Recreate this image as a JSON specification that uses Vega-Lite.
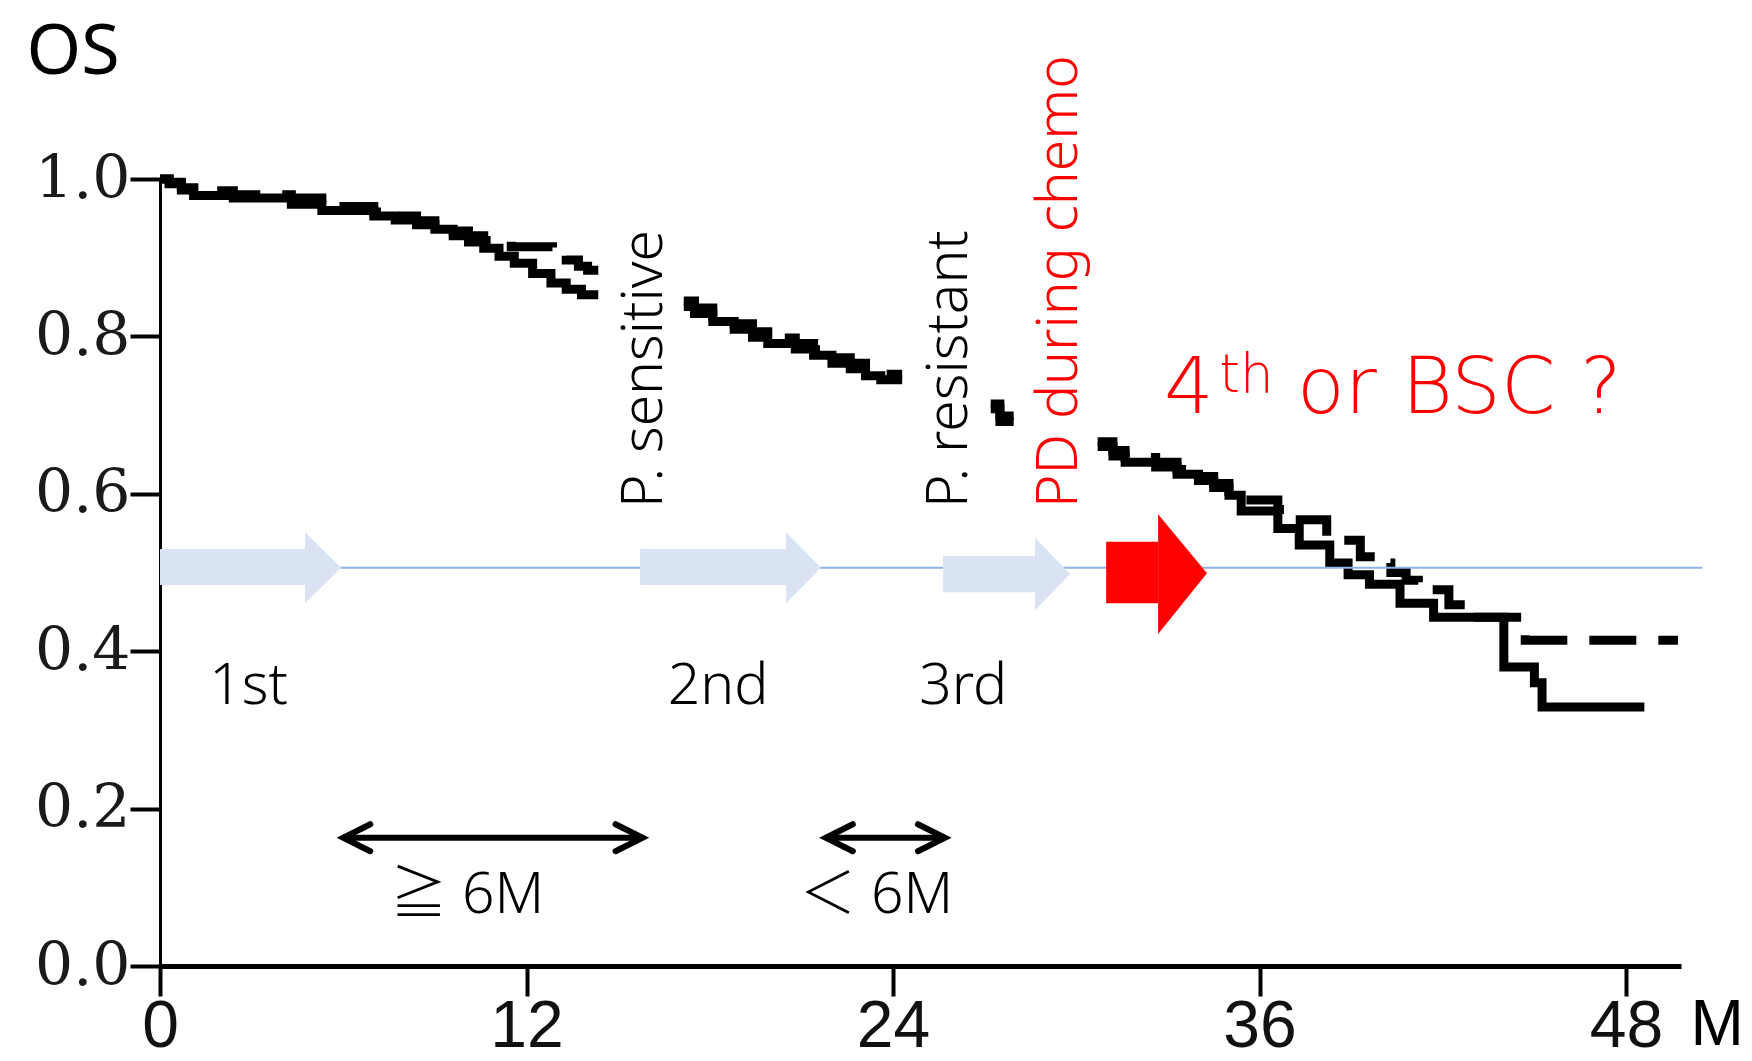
{
  "$schema": "https://vega.github.io/schema/vega-lite/v6.json",
  "autosize": {"type": "none"},
  "padding": {"left": 160, "top": 179, "right": 71, "bottom": 95},
  "width": 1521,
  "height": 787,
  "background": "white",
  "config": {"view": {"stroke": null}, "axis": {"grid": false}},
  "encoding": {
    "x": {
      "field": "m", "type": "quantitative",
      "scale": {"domain": [0, 49.8], "nice": false, "zero": false},
      "axis": {
        "values": [0, 12, 24, 36, 48], "format": "d",
        "labelFont": "Liberation Sans", "labelFontSize": 66, "labelColor": "#111",
        "labelPadding": -2, "labelFlush": false, "labelOverlap": false,
        "tickSize": 30, "tickWidth": 4, "tickColor": "black",
        "domainColor": "black", "domainWidth": 5,
        "title": "M", "titleFont": "Liberation Sans", "titleFontSize": 64,
        "titleFontWeight": "normal", "titleColor": "black",
        "titleX": 1530, "titleY": 78, "titleAlign": "left", "titleBaseline": "alphabetic"
      }
    },
    "y": {
      "field": "s", "type": "quantitative",
      "scale": {"domain": [0, 1], "nice": false, "zero": true},
      "axis": {
        "values": [0, 0.2, 0.4, 0.6, 0.8, 1.0], "format": ".1f",
        "labelFont": "DejaVu Serif", "labelFontSize": 60, "labelColor": "#1a1a1a",
        "labelPadding": 0, "labelFlush": false, "labelOverlap": false,
        "tickSize": 30, "tickWidth": 4, "tickColor": "black",
        "domainColor": "black", "domainWidth": 3,
        "title": "OS", "titleFont": "Noto Sans", "titleFontSize": 70,
        "titleFontWeight": "normal", "titleColor": "black", "titleAngle": 0,
        "titleX": -134, "titleY": -106, "titleAlign": "left", "titleBaseline": "alphabetic"
      }
    }
  },
  "layer": [
    {
      "data": {"values": [
        {"curve": "solid", "seg": "sA", "m": 0, "s": 1.0},
        {"curve": "solid", "seg": "sA", "m": 0.3, "s": 0.994},
        {"curve": "solid", "seg": "sA", "m": 0.7, "s": 0.986},
        {"curve": "solid", "seg": "sA", "m": 1.1, "s": 0.979},
        {"curve": "solid", "seg": "sA", "m": 2.4, "s": 0.976},
        {"curve": "solid", "seg": "sA", "m": 4.3, "s": 0.968},
        {"curve": "solid", "seg": "sA", "m": 5.3, "s": 0.96},
        {"curve": "solid", "seg": "sA", "m": 7.0, "s": 0.953},
        {"curve": "solid", "seg": "sA", "m": 7.7, "s": 0.948},
        {"curve": "solid", "seg": "sA", "m": 8.4, "s": 0.942},
        {"curve": "solid", "seg": "sA", "m": 9.0, "s": 0.936},
        {"curve": "solid", "seg": "sA", "m": 9.6, "s": 0.928},
        {"curve": "solid", "seg": "sA", "m": 10.1, "s": 0.92},
        {"curve": "solid", "seg": "sA", "m": 10.6, "s": 0.912},
        {"curve": "solid", "seg": "sA", "m": 11.1, "s": 0.902},
        {"curve": "solid", "seg": "sA", "m": 11.6, "s": 0.893},
        {"curve": "solid", "seg": "sA", "m": 12.2, "s": 0.88},
        {"curve": "solid", "seg": "sA", "m": 12.8, "s": 0.868},
        {"curve": "solid", "seg": "sA", "m": 13.3, "s": 0.86},
        {"curve": "solid", "seg": "sA", "m": 13.8, "s": 0.853},
        {"curve": "solid", "seg": "sA", "m": 14.35, "s": 0.853},
        {"curve": "dashed", "seg": "dA", "m": 0, "s": 1.0},
        {"curve": "dashed", "seg": "dA", "m": 0.3, "s": 0.996},
        {"curve": "dashed", "seg": "dA", "m": 0.7, "s": 0.989},
        {"curve": "dashed", "seg": "dA", "m": 1.6, "s": 0.985},
        {"curve": "dashed", "seg": "dA", "m": 2.4, "s": 0.98},
        {"curve": "dashed", "seg": "dA", "m": 4.3, "s": 0.976},
        {"curve": "dashed", "seg": "dA", "m": 5.3, "s": 0.965},
        {"curve": "dashed", "seg": "dA", "m": 7.0, "s": 0.958},
        {"curve": "dashed", "seg": "dA", "m": 7.7, "s": 0.953},
        {"curve": "dashed", "seg": "dA", "m": 8.4, "s": 0.947},
        {"curve": "dashed", "seg": "dA", "m": 9.0, "s": 0.941},
        {"curve": "dashed", "seg": "dA", "m": 9.6, "s": 0.934},
        {"curve": "dashed", "seg": "dA", "m": 10.1, "s": 0.928},
        {"curve": "dashed", "seg": "dA", "m": 10.6, "s": 0.922},
        {"curve": "dashed", "seg": "dA", "m": 11.5, "s": 0.914},
        {"curve": "dashed", "seg": "dA", "m": 12.85, "s": 0.903},
        {"curve": "dashed", "seg": "dA", "m": 13.3, "s": 0.897},
        {"curve": "dashed", "seg": "dA", "m": 13.7, "s": 0.889},
        {"curve": "dashed", "seg": "dA", "m": 14.0, "s": 0.884},
        {"curve": "dashed", "seg": "dA", "m": 14.35, "s": 0.884},
        {"curve": "solid", "seg": "sB", "m": 17.15, "s": 0.838},
        {"curve": "solid", "seg": "sB", "m": 17.5, "s": 0.829},
        {"curve": "solid", "seg": "sB", "m": 18.1, "s": 0.819},
        {"curve": "solid", "seg": "sB", "m": 18.8, "s": 0.809},
        {"curve": "solid", "seg": "sB", "m": 19.4, "s": 0.799},
        {"curve": "solid", "seg": "sB", "m": 19.9, "s": 0.791},
        {"curve": "solid", "seg": "sB", "m": 20.8, "s": 0.784},
        {"curve": "solid", "seg": "sB", "m": 21.4, "s": 0.776},
        {"curve": "solid", "seg": "sB", "m": 22.0, "s": 0.766},
        {"curve": "solid", "seg": "sB", "m": 22.6, "s": 0.759},
        {"curve": "solid", "seg": "sB", "m": 23.1, "s": 0.75},
        {"curve": "solid", "seg": "sB", "m": 23.6, "s": 0.745},
        {"curve": "solid", "seg": "sB", "m": 24.3, "s": 0.745},
        {"curve": "dashed", "seg": "dB", "m": 17.15, "s": 0.845},
        {"curve": "dashed", "seg": "dB", "m": 17.5, "s": 0.836},
        {"curve": "dashed", "seg": "dB", "m": 18.1, "s": 0.826},
        {"curve": "dashed", "seg": "dB", "m": 18.8, "s": 0.816},
        {"curve": "dashed", "seg": "dB", "m": 19.4, "s": 0.806},
        {"curve": "dashed", "seg": "dB", "m": 19.9, "s": 0.798},
        {"curve": "dashed", "seg": "dB", "m": 20.8, "s": 0.791},
        {"curve": "dashed", "seg": "dB", "m": 21.4, "s": 0.783},
        {"curve": "dashed", "seg": "dB", "m": 22.0, "s": 0.773},
        {"curve": "dashed", "seg": "dB", "m": 22.6, "s": 0.766},
        {"curve": "dashed", "seg": "dB", "m": 23.1, "s": 0.757},
        {"curve": "dashed", "seg": "dB", "m": 23.6, "s": 0.752},
        {"curve": "dashed", "seg": "dB", "m": 24.3, "s": 0.752},
        {"curve": "solid", "seg": "sC", "m": 27.2, "s": 0.708},
        {"curve": "solid", "seg": "sC", "m": 27.5, "s": 0.692},
        {"curve": "solid", "seg": "sC", "m": 27.95, "s": 0.692},
        {"curve": "dashed", "seg": "dC", "m": 27.2, "s": 0.714},
        {"curve": "dashed", "seg": "dC", "m": 27.5, "s": 0.699},
        {"curve": "dashed", "seg": "dC", "m": 27.95, "s": 0.699},
        {"curve": "solid", "seg": "sD", "m": 30.7, "s": 0.66},
        {"curve": "solid", "seg": "sD", "m": 31.2, "s": 0.648},
        {"curve": "solid", "seg": "sD", "m": 31.6, "s": 0.64},
        {"curve": "solid", "seg": "sD", "m": 32.6, "s": 0.634},
        {"curve": "solid", "seg": "sD", "m": 33.3, "s": 0.625},
        {"curve": "solid", "seg": "sD", "m": 34.0, "s": 0.617},
        {"curve": "solid", "seg": "sD", "m": 34.5, "s": 0.608},
        {"curve": "solid", "seg": "sD", "m": 35.0, "s": 0.598},
        {"curve": "solid", "seg": "sD", "m": 35.4, "s": 0.578},
        {"curve": "solid", "seg": "sD", "m": 36.6, "s": 0.556},
        {"curve": "solid", "seg": "sD", "m": 37.3, "s": 0.535},
        {"curve": "solid", "seg": "sD", "m": 38.3, "s": 0.512},
        {"curve": "solid", "seg": "sD", "m": 38.9, "s": 0.497},
        {"curve": "solid", "seg": "sD", "m": 39.6, "s": 0.485},
        {"curve": "solid", "seg": "sD", "m": 40.6, "s": 0.461},
        {"curve": "solid", "seg": "sD", "m": 41.7, "s": 0.443},
        {"curve": "solid", "seg": "sD", "m": 44.0, "s": 0.38},
        {"curve": "solid", "seg": "sD", "m": 45.0, "s": 0.36},
        {"curve": "solid", "seg": "sD", "m": 45.25, "s": 0.329},
        {"curve": "solid", "seg": "sD", "m": 48.6, "s": 0.329},
        {"curve": "dashed", "seg": "dD", "m": 30.7, "s": 0.666},
        {"curve": "dashed", "seg": "dD", "m": 31.2, "s": 0.655},
        {"curve": "dashed", "seg": "dD", "m": 31.6, "s": 0.646},
        {"curve": "dashed", "seg": "dD", "m": 32.6, "s": 0.64},
        {"curve": "dashed", "seg": "dD", "m": 33.3, "s": 0.631},
        {"curve": "dashed", "seg": "dD", "m": 34.0, "s": 0.622},
        {"curve": "dashed", "seg": "dD", "m": 34.5, "s": 0.613},
        {"curve": "dashed", "seg": "dD", "m": 35.0, "s": 0.603},
        {"curve": "dashed", "seg": "dD", "m": 35.4, "s": 0.592},
        {"curve": "dashed", "seg": "dD", "m": 36.6, "s": 0.58},
        {"curve": "dashed", "seg": "dD", "m": 37.0, "s": 0.567},
        {"curve": "dashed", "seg": "dD", "m": 38.2, "s": 0.541},
        {"curve": "dashed", "seg": "dD", "m": 39.3, "s": 0.52},
        {"curve": "dashed", "seg": "dD", "m": 39.9, "s": 0.512},
        {"curve": "dashed", "seg": "dD", "m": 40.3, "s": 0.5},
        {"curve": "dashed", "seg": "dD", "m": 40.8, "s": 0.49},
        {"curve": "dashed", "seg": "dD", "m": 41.2, "s": 0.478},
        {"curve": "dashed", "seg": "dD", "m": 42.2, "s": 0.459},
        {"curve": "dashed", "seg": "dD", "m": 43.0, "s": 0.443},
        {"curve": "dashed", "seg": "dD", "m": 44.7, "s": 0.414},
        {"curve": "dashed", "seg": "dD", "m": 49.7, "s": 0.414}
      ]},
      "mark": {"type": "line", "interpolate": "step-after", "strokeWidth": 9, "color": "black", "strokeCap": "butt"},
      "encoding": {
        "detail": {"field": "seg", "type": "nominal"},
        "strokeDash": {"field": "curve", "type": "nominal", "scale": {"domain": ["solid", "dashed"], "range": [[1, 0], [47, 22]]}, "legend": null}
      }
    },
    {
      "data": {"values": [{"m": 0, "m2": 50.5, "s": 0.506}]},
      "mark": {"type": "rule", "color": "#8EB4E3", "strokeWidth": 2},
      "encoding": {"x2": {"field": "m2"}}
    },
    {
      "data": {"values": [
        {"m": 0, "m2": 4.75, "s": 0.484, "hi": 0.53},
        {"m": 15.72, "m2": 20.5, "s": 0.484, "hi": 0.53},
        {"m": 25.64, "m2": 28.65, "s": 0.475, "hi": 0.521}
      ]},
      "mark": {"type": "rect", "color": "#DAE3F3", "opacity": 1},
      "encoding": {"x2": {"field": "m2"}, "y2": {"field": "hi"}}
    },
    {
      "data": {"values": [
        {"id": "h1", "m": 4.75, "s": 0.461, "hi": 0.551},
        {"id": "h1", "m": 5.93, "s": 0.506, "hi": 0.506},
        {"id": "h2", "m": 20.5, "s": 0.461, "hi": 0.551},
        {"id": "h2", "m": 21.64, "s": 0.506, "hi": 0.506},
        {"id": "h3", "m": 28.65, "s": 0.452, "hi": 0.544},
        {"id": "h3", "m": 29.8, "s": 0.498, "hi": 0.498}
      ]},
      "mark": {"type": "area", "color": "#DAE3F3", "opacity": 1},
      "encoding": {"y2": {"field": "hi"}, "detail": {"field": "id", "type": "nominal"}}
    },
    {
      "data": {"values": [{"m": 30.98, "m2": 32.68, "s": 0.461, "hi": 0.539}]},
      "mark": {"type": "rect", "color": "#FF0000", "opacity": 1},
      "encoding": {"x2": {"field": "m2"}, "y2": {"field": "hi"}}
    },
    {
      "data": {"values": [
        {"id": "h4", "m": 32.68, "s": 0.422, "hi": 0.574},
        {"id": "h4", "m": 34.28, "s": 0.499, "hi": 0.499}
      ]},
      "mark": {"type": "area", "color": "#FF0000", "opacity": 1},
      "encoding": {"y2": {"field": "hi"}, "detail": {"field": "id", "type": "nominal"}}
    },
    {
      "data": {"values": [
        {"m": 6.0, "m2": 15.8, "s": 0.163},
        {"m": 21.8, "m2": 25.7, "s": 0.163}
      ]},
      "mark": {"type": "rule", "color": "black", "strokeWidth": 6},
      "encoding": {"x2": {"field": "m2"}}
    },
    {
      "data": {"values": [
        {"m": 6.0, "s": 0.163, "dir": "left"},
        {"m": 15.8, "s": 0.163, "dir": "right"},
        {"m": 21.8, "s": 0.163, "dir": "left"},
        {"m": 25.7, "s": 0.163, "dir": "right"}
      ]},
      "mark": {"type": "point", "filled": false, "stroke": "black", "strokeWidth": 6, "size": 729, "opacity": 1, "strokeCap": "round", "strokeJoin": "miter"},
      "encoding": {
        "shape": {"field": "dir", "type": "nominal", "scale": {"domain": ["left", "right"], "range": ["M 2 -1 L 0 0 L 2 1", "M -2 -1 L 0 0 L -2 1"]}, "legend": null}
      }
    },
    {
      "data": {"values": [
        {"t": "P. sensitive", "m": 15.88, "s": 0.582},
        {"t": "P. resistant", "m": 25.85, "s": 0.582}
      ]},
      "mark": {"type": "text", "angle": 270, "align": "left", "baseline": "middle", "font": "Noto Sans", "fontSize": 57, "fontWeight": 300, "color": "black"},
      "encoding": {"text": {"field": "t"}}
    },
    {
      "data": {"values": [{"t": "PD during chemo", "m": 29.47, "s": 0.582}]},
      "mark": {"type": "text", "angle": 270, "align": "left", "baseline": "middle", "font": "Noto Sans", "fontSize": 57, "fontWeight": 300, "color": "#FF0000"},
      "encoding": {"text": {"field": "t"}}
    },
    {
      "data": {"values": [
        {"t": "1st", "m": 2.9, "s": 0.333},
        {"t": "2nd", "m": 18.27, "s": 0.333},
        {"t": "3rd", "m": 26.3, "s": 0.333}
      ]},
      "mark": {"type": "text", "align": "center", "baseline": "alphabetic", "font": "Noto Sans", "fontSize": 57, "fontWeight": 300, "color": "black"},
      "encoding": {"text": {"field": "t"}}
    },
    {
      "data": {"values": [
        {"t": "≧ 6M", "m": 10.06, "s": 0.067},
        {"t": "＜ 6M", "m": 23.45, "s": 0.067}
      ]},
      "mark": {"type": "text", "align": "center", "baseline": "alphabetic", "font": "Noto Sans, Noto Sans CJK JP", "fontSize": 57, "fontWeight": 300, "color": "black"},
      "encoding": {"text": {"field": "t"}}
    },
    {
      "data": {"values": [
        {"t": "4", "m": 32.87, "s": 0.7027},
        {"t": "or BSC ?", "m": 37.23, "s": 0.7027}
      ]},
      "mark": {"type": "text", "align": "left", "baseline": "alphabetic", "font": "DejaVu Sans", "fontSize": 78, "fontWeight": 200, "color": "#FF0000"},
      "encoding": {"text": {"field": "t"}}
    },
    {
      "data": {"values": [{"t": "th", "m": 34.68, "s": 0.7294}]},
      "mark": {"type": "text", "align": "left", "baseline": "alphabetic", "font": "DejaVu Sans", "fontSize": 53, "fontWeight": 200, "color": "#FF0000"},
      "encoding": {"text": {"field": "t"}}
    }
  ]
}
